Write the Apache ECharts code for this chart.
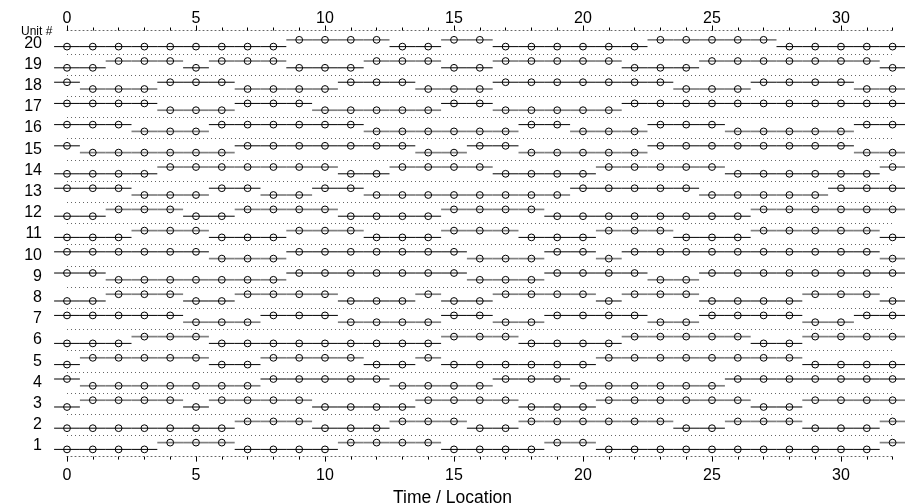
<!DOCTYPE html>
<html><head><meta charset="utf-8">
<script src="https://cdn.jsdelivr.net/npm/echarts@6/dist/echarts.min.js"></script>
<style>html,body{margin:0;padding:0;background:#fff}#c{width:905px;height:504px}</style>
</head><body><div id="c"></div>
<script>
// ---- data ----
const times = [0,1,2,3,4,5,6,7,8,9,10,11,12,13,14,15,16,17,18,19,20,21,22,23,24,25,26,27,28,29,30,31,32];
const unitNames = ['1','2','3','4','5','6','7','8','9','10','11','12','13','14','15','16','17','18','19','20'];
const xTickLabels = [0,5,10,15,20,25,30];
// state per time point: 1 = upper level, 0 = lower level
const unit01 = [0,0,0,0,1,1,1,0,0,0,0,1,1,1,1,0,0,0,0,1,1,0,0,0,0,0,0,0,0,0,0,0,1];
const unit02 = [0,0,0,0,0,0,0,1,1,1,0,0,0,1,1,1,0,0,1,1,1,1,1,1,0,0,1,1,1,0,0,0,1];
const unit03 = [0,1,1,1,1,0,1,1,1,1,0,0,0,0,1,1,1,1,0,0,0,1,1,1,1,1,1,0,0,1,1,1,1];
const unit04 = [1,0,0,0,0,0,0,0,1,1,1,1,1,0,0,0,0,1,1,1,0,0,0,0,0,0,1,1,1,1,1,1,1];
const unit05 = [0,1,1,1,1,1,0,0,1,1,1,1,0,0,1,0,0,0,0,0,0,1,1,1,1,1,1,1,1,0,0,0,0];
const unit06 = [0,0,0,1,1,1,0,0,0,0,0,0,0,0,0,1,1,1,0,0,0,0,1,1,1,1,1,0,0,1,1,1,1];
const unit07 = [1,1,1,1,1,0,0,0,1,1,1,0,0,0,0,1,1,0,0,1,1,1,1,0,0,1,1,1,1,0,0,1,1];
const unit08 = [0,0,1,1,1,0,0,1,1,1,1,0,0,0,1,0,0,1,1,1,1,0,1,1,1,0,0,0,0,1,1,1,0];
const unit09 = [1,1,0,0,0,0,0,0,0,1,1,1,1,1,1,1,0,0,0,1,1,1,1,0,0,1,1,1,1,1,1,1,1];
const unit10 = [1,1,1,1,1,1,0,0,0,1,1,1,1,1,1,1,0,0,0,1,1,0,1,1,1,1,1,1,1,1,1,1,0];
const unit11 = [0,0,0,1,1,1,0,0,0,1,1,1,0,0,0,1,1,1,0,0,0,1,1,1,0,0,0,1,1,1,1,1,0];
const unit12 = [0,0,1,1,1,0,0,1,1,1,1,0,0,0,0,1,1,1,1,0,0,0,0,0,0,0,0,1,1,1,1,1,1];
const unit13 = [1,1,1,0,0,0,1,1,0,0,1,1,0,0,0,0,0,0,0,0,1,1,1,1,1,0,0,0,0,0,1,1,1];
const unit14 = [0,0,0,0,1,1,1,1,1,1,1,0,0,1,1,1,1,0,0,0,0,1,1,1,1,1,0,0,0,0,0,0,1];
const unit15 = [1,0,0,0,0,0,0,1,1,1,1,1,1,1,0,0,1,1,0,0,0,0,0,1,1,1,1,1,1,1,1,0,0];
const unit16 = [1,1,1,0,0,0,1,1,1,1,1,1,0,0,0,0,0,0,1,1,0,0,0,1,1,1,0,0,0,0,0,1,1];
const unit17 = [1,1,1,1,0,0,0,1,1,1,0,0,0,0,0,1,1,0,0,0,0,0,1,1,1,1,1,1,1,1,1,1,1];
const unit18 = [1,0,0,0,1,1,1,0,0,0,0,1,1,1,0,0,0,1,1,1,1,1,1,1,0,0,0,1,1,1,1,0,0];
const unit19 = [0,0,1,1,1,0,1,1,1,0,0,0,1,1,1,0,0,1,1,1,1,1,0,0,0,1,1,1,1,1,1,1,0];
const unit20 = [0,0,0,0,0,0,0,0,0,1,1,1,1,0,0,1,1,0,0,0,0,0,0,1,1,1,1,1,0,0,0,0,0];
const units = [unit01,unit02,unit03,unit04,unit05,unit06,unit07,unit08,unit09,unit10,
               unit11,unit12,unit13,unit14,unit15,unit16,unit17,unit18,unit19,unit20];

// ---- build series data ----
const LEVEL = 0.16;
const segData = [];
units.forEach((st, ui) => {
  let run = 0;
  st.forEach((s, ti) => {
    if (ti > 0 && st[ti - 1] !== s) run++;
    segData.push([times[ti], ui + 1 + (s ? LEVEL : -LEVEL), run % 2]);
  });
});
const sepLines = [];
for (let i = 1; i < unitNames.length; i++) sepLines.push({ yAxis: i + 0.5 });

const FONT = 'Liberation Sans, Arial, Helvetica, sans-serif';
const DOT = [1, 3];
const chart = echarts.init(document.getElementById('c'), null, { renderer: 'canvas' });

const TOP = 30.5, BOTTOM = 47.4, LEFT = 67, RIGHT = 12.4;

chart.setOption({
  animation: false,
  backgroundColor: '#ffffff',
  title: [
    { text: 'Unit #', left: 16, top: 21, textStyle: { fontFamily: FONT, fontSize: 12, fontWeight: 'normal', color: '#000' } },
    { text: 'Time / Location', left: 'center', top: 484, textStyle: { fontFamily: FONT, fontSize: 17.5, fontWeight: 'normal', color: '#000' } }
  ],
  grid: [
    { left: LEFT, right: RIGHT, top: TOP, bottom: BOTTOM },
    { left: LEFT, width: 30 * (905 - LEFT - RIGHT) / 32, top: TOP, bottom: BOTTOM },
    { left: LEFT, right: RIGHT, top: TOP - 8.5, bottom: BOTTOM - 10.6 }
  ],
  xAxis: [
    { gridIndex: 0, type: 'value', position: 'bottom', min: 0, max: 32, interval: 1,
      axisLine: { show: true, lineStyle: { color: '#666', width: 1, type: DOT } },
      axisTick: { show: true, length: 3, lineStyle: { color: '#000' } },
      axisLabel: { show: false }, splitLine: { show: false } },
    { gridIndex: 0, type: 'value', position: 'top', min: 0, max: 32, interval: 1,
      axisLine: { show: true, lineStyle: { color: '#666', width: 1, type: DOT } },
      axisTick: { show: true, length: 3, lineStyle: { color: '#000' } },
      axisLabel: { show: false }, splitLine: { show: false } },
    { gridIndex: 1, type: 'value', position: 'bottom', min: 0, max: 30, interval: 5,
      axisLine: { show: false },
      axisTick: { show: true, length: 5, lineStyle: { color: '#000' } },
      axisLabel: { show: true, margin: 11, fontFamily: FONT, fontSize: 16, color: '#000',
                   formatter: v => xTickLabels.indexOf(v) >= 0 ? String(v) : '' },
      splitLine: { show: false } },
    { gridIndex: 1, type: 'value', position: 'top', min: 0, max: 30, interval: 5,
      axisLine: { show: false },
      axisTick: { show: true, length: 5, lineStyle: { color: '#000' } },
      axisLabel: { show: true, margin: 3.5, fontFamily: FONT, fontSize: 16, color: '#000',
                   formatter: v => xTickLabels.indexOf(v) >= 0 ? String(v) : '' },
      splitLine: { show: false } },
    { gridIndex: 2, type: 'value', show: false, min: 0, max: 32 }
  ],
  yAxis: [
    { gridIndex: 0, type: 'value', min: 0.5, max: 20.6, show: false },
    { gridIndex: 1, type: 'value', min: 0.5, max: 20.6, show: false },
    { gridIndex: 2, type: 'value', min: 0, max: 21, interval: 1,
      axisLine: { show: false }, axisTick: { show: false }, splitLine: { show: false },
      axisLabel: { show: true, margin: 25, fontFamily: FONT, fontSize: 16, color: '#000',
                   formatter: v => (v >= 1 && v <= unitNames.length) ? unitNames[v - 1] : '' } }
  ],
  series: [{
    type: 'custom',
    xAxisIndex: 0, yAxisIndex: 0,
    clip: false,
    silent: true,
    data: segData,
    renderItem: function (params, api) {
      const x = api.value(0), y = api.value(1), c = api.value(2);
      const p0 = api.coord([x - 0.5, y]);
      const p1 = api.coord([x + 0.5, y]);
      const pc = api.coord([x, y]);
      return { type: 'group', children: [
        { type: 'line', shape: { x1: p0[0], y1: p0[1], x2: p1[0], y2: p1[1] },
          style: { stroke: c ? '#808080' : '#000000', lineWidth: c ? 1.7 : 1 } },
        { type: 'circle', shape: { cx: pc[0], cy: pc[1], r: 3.4 },
          style: { fill: null, stroke: '#000000', lineWidth: 1 } }
      ] };
    },
    markLine: {
      silent: true, symbol: 'none', label: { show: false }, animation: false,
      lineStyle: { color: '#666', width: 1, type: DOT },
      data: sepLines
    }
  }]
});
</script></body></html>
